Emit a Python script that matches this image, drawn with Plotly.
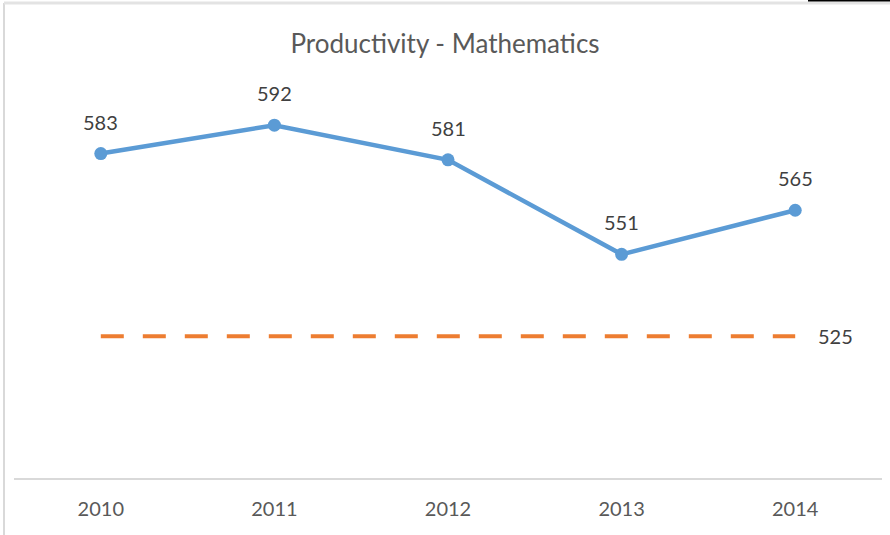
import plotly.graph_objects as go

BLUE = "#5b9bd5"
ORANGE = "#ed7d31"
TEXT = "#595959"
LABEL = "#404040"
FONT = "Lato"

years = ["2010", "2011", "2012", "2013", "2014"]
maths = [583, 592, 581, 551, 565]
benchmark = [525, 525, 525, 525, 525]

# plot area in pixels: x 14..882, y 100..478
W, H = 890, 535
L, R, T, B = 14, 8, 100, 57
PW, PH = W - L - R, H - T - B


def px_x(x):
    return (x - L) / PW


def px_y(y):
    return (H - B - y) / PH


fig = go.Figure()

fig.add_trace(go.Scatter(
    x=years, y=benchmark, mode="lines",
    line=dict(color=ORANGE, width=4, dash="23px,19px"),
    hoverinfo="skip", showlegend=False,
))
fig.add_trace(go.Scatter(
    x=years, y=maths, mode="lines+markers",
    line=dict(color=BLUE, width=4.5),
    marker=dict(color=BLUE, size=13),
    showlegend=False,
))

annotations = []
for i, v in enumerate(maths):
    annotations.append(dict(
        xref="x", yref="y", x=i, y=v, text=str(v), showarrow=False, yshift=32,
        font=dict(family=FONT, size=20, color=LABEL),
    ))
annotations.append(dict(
    xref="x", yref="y", x=len(years) - 1, y=benchmark[-1], text=str(benchmark[-1]),
    showarrow=False, xshift=40, font=dict(family=FONT, size=20, color=LABEL),
))

fig.update_layout(
    width=W, height=H,
    margin=dict(l=L, r=R, t=T, b=B),
    paper_bgcolor="white",
    plot_bgcolor="white",
    title=dict(text="Productivity - Mathematics", x=0.5, xanchor="center",
               y=1 - 44 / H, yanchor="middle",
               font=dict(family=FONT, size=26, color=TEXT)),
    xaxis=dict(type="category", range=[-0.5, 4.5], showgrid=False, zeroline=False,
               showline=True, linecolor="#d9d9d9", linewidth=1.5, ticks="",
               tickfont=dict(family=FONT, size=20, color=TEXT), ticklabelstandoff=12),
    yaxis=dict(range=[480, 600], showgrid=False, zeroline=False, showline=False,
               showticklabels=False),
    annotations=annotations,
    shapes=[
        dict(type="line", xref="paper", yref="paper", x0=px_x(4), x1=px_x(4),
             y0=px_y(3), y1=px_y(H), line=dict(color="#d9d9d9", width=2)),
        dict(type="line", xref="paper", yref="paper", x0=px_x(4), x1=px_x(W),
             y0=px_y(3), y1=px_y(3), line=dict(color="#e3e3e3", width=3)),
        dict(type="line", xref="paper", yref="paper", x0=px_x(808), x1=px_x(W),
             y0=px_y(0.5), y1=px_y(0.5), line=dict(color="black", width=2)),
    ],
)

fig.write_html("out.html", config={"displayModeBar": False},
               post_script="document.body.style.margin='0';")
